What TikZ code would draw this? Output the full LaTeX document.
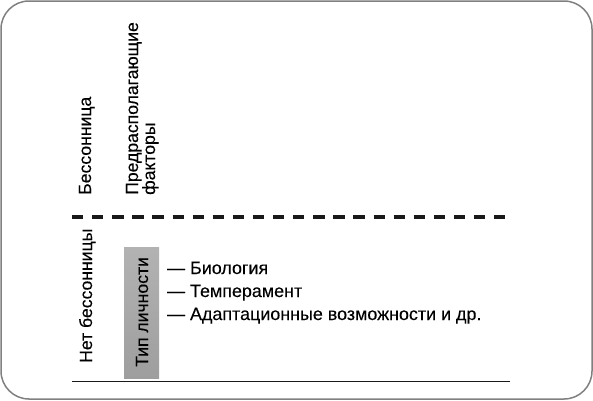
\documentclass[tikz,border=0pt]{standalone}
\usepackage{fontspec}
\setmainfont[FakeBold=0.2]{Liberation Sans}
\begin{document}
\begin{tikzpicture}[x=1pt,y=-1pt,
  lbl/.style={inner sep=0pt, font=\fontsize{17.6}{17}\selectfont, text=black},
  vlbl/.style={lbl, rotate=90, anchor=base west, align=left},
  frame/.style={draw=black!50, line width=1.5pt, rounded corners=28pt},
  sep/.style={line width=4pt, dash pattern=on 11.3pt off 8.8pt, black!90},
  baseline/.style={line width=1pt, black!90},
  greybox/.style={top color=black!30, bottom color=black!38, draw=none}
]
\useasboundingbox (0,0) rectangle (593,400);
\draw[frame] (1,1) rectangle (592,399);

\coordinate (dl) at (72,217);
\coordinate (dr) at (508,217);
\draw[sep] (dl) -- (dr);

\coordinate (bl) at (72,381);
\coordinate (br) at (510,381);
\draw[baseline] (bl) -- (br);

\fill[greybox] (124,247) rectangle (159,378);

\node[vlbl] (bess) at (91,195) {Бессонница};
\node[vlbl] (pred) at (155,195) {Предрасполагающие\\факторы};
\node[vlbl] (net) at (92,363) {Нет бессонницы};
\node[vlbl] (tip) at (148,367) {Тип личности};

\node[lbl, anchor=base west, font=\fontsize{17.9}{17}\selectfont] (l1) at (167,274) {— Биология};
\node[lbl, anchor=base west, font=\fontsize{17.9}{17}\selectfont] (l2) at (167,297) {— Темперамент};
\node[lbl, anchor=base west, font=\fontsize{17.9}{17}\selectfont] (l3) at (167,320) {— Адаптационные возможности и др.};
\end{tikzpicture}
\end{document}
